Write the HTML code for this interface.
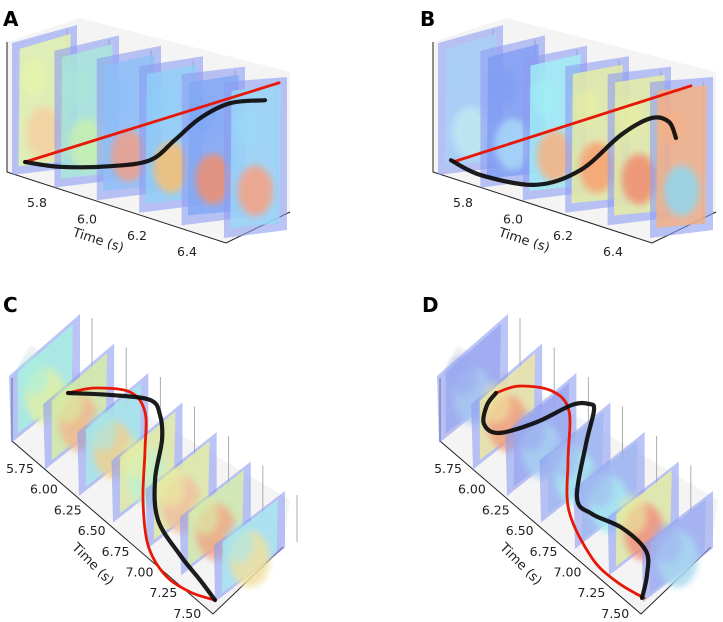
<!DOCTYPE html>
<html><head><meta charset="utf-8"><style>
body{margin:0;background:#fff}
svg{display:block}
text{font-family:"DejaVu Sans","Liberation Sans",sans-serif;fill:#222}
.pl{font-weight:bold;font-size:20px;fill:#000}
</style></head><body>
<svg id="fig" width="723" height="622" viewBox="0 0 723 622">
<defs><filter id="bl" x="-50%" y="-50%" width="200%" height="200%"><feGaussianBlur stdDeviation="3.5"/></filter></defs>
<text class="pl" x="3" y="26">A</text>
<text class="pl" x="420" y="26">B</text>
<text class="pl" x="3" y="312">C</text>
<text class="pl" x="422" y="312">D</text>
</svg>
<script>
// ---- data ----
const ticksAB = [5.8, 6.0, 6.2, 6.4];
const tickLabelsAB = ["5.8", "6.0", "6.2", "6.4"];
const ticksCD = [5.75, 6.0, 6.25, 6.5, 6.75, 7.0, 7.25, 7.5];
const tickLabelsCD = ["5.75", "6.00", "6.25", "6.50", "6.75", "7.00", "7.25", "7.50"];
const sliceColorsA = [["#e8f7a8","#f5d0a0"],["#a8e8d8","#c8f0b0"],["#8cc0f8","#f0a088"],["#90d0f8","#f8c070"],["#7fa8f5","#f09070"],["#9ad8f8","#f8a080"]];
const sliceColorsB = [["#a8d0f8","#c0e8f0"],["#7f9cf2","#a8d8f8"],["#a0f0f5","#f8b080"],["#e8f0a0","#f8a070"],["#e8f0a0","#f08c70"],["#f8b080","#90d8f0"]];
const sliceColorsC = [["#a8f0e0","#e0f0a8"],["#d8f0a0","#f0b890"],["#a8e8e8","#f0d090"],["#e8f0a0","#c0f0d0"],["#e8f0a0","#f0c0a0"],["#d8f0a8","#f0a888"],["#a8e8f0","#f0e0a0"]];
const sliceColorsD = [["#9aa8f0","#a8c8f0"],["#f0e8a0","#f0a080"],["#9aa8f0","#a8d0f0"],["#a0b8f0","#a8e8f0"],["#a0b8f0","#a8e8f0"],["#e8f0a0","#f09080"],["#a0b0f0","#a8d8f0"]];
const blackTA = [5.75,5.859,6.016,6.141,6.219,6.297,6.391,6.5];
const blackVA = [0,-0.08,-0.07,0.03,0.37,0.73,0.98,1.03];
const redTA = [5.75,6.544];
const redVA = [0,1.32];
const blackTB = [5.75,5.844,6.016,6.156,6.281,6.375,6.431,6.453];
const blackVB = [0.03,-0.22,-0.38,-0.13,0.45,0.73,0.67,0.4];
const redTB = [5.756,6.5];
const redVB = [0,1.27];
const blackTC = [5.8,5.816,5.857,5.98,6.186,6.514,6.843,7.13,7.335,7.5];
const blackVC = [0,0.84,1.64,1.84,1.88,1.74,1.8,2.24,2.64,2.94];
const redTC = [5.8,5.759,5.792,5.956,6.268,6.679,7.048,7.294,7.434,7.5];
const redVC = [0,0.54,1.24,1.54,1.54,1.5,1.6,1.94,2.44,2.94];
const blackTD = [5.8,5.899,6.055,6.128,6.038,5.898,5.89,5.94,6.219,6.662,6.793,6.908,7.097,7.294,7.483];
const blackVD = [0,-0.18,-0.24,0.06,0.82,1.52,1.86,1.96,1.8,1.62,1.92,2.52,3.0,3.02,2.92];
const redTD = [5.8,5.743,5.784,5.948,6.358,6.769,7.155,7.352,7.483];
const redVD = [0,0.46,1.12,1.46,1.44,1.46,1.92,2.42,2.96];

const svg = document.getElementById('fig');
const NS = 'http://www.w3.org/2000/svg';
function mk(tag, attrs, parent){const e=document.createElementNS(NS,tag);for(const k in attrs)e.setAttribute(k,attrs[k]);(parent||svg).appendChild(e);return e;}
function lerp(a,b,f){return a+(b-a)*f;}
function lp(p,q,f){return [lerp(p[0],q[0],f),lerp(p[1],q[1],f)];}

const geomAB = {first:[[12,43],[77,25],[77,167],[12,175]], last:[[224,82],[287,77],[287,230],[224,238]],
  box:[[7,42],[80,18],[290,72],[290,212],[226,243],[7,172]], axis:[[7,42],[7,172],[226,243],[290,212]],
  tick0:5.8, tickPos:[37,207], tickStep:[50/0.2,16.4/0.2], title:[97,244], rot:18, gl:-10,
  cOrig:[25,162], cT:[320,0], cV:[0,-60], ct0:5.75};
const geomCD = {first:[[9,376],[80,314],[80,388],[11,443]], last:[[214,545],[285,491],[285,548],[215,602]],
  box:[[12,378],[30,345],[290,500],[283,547],[213,614],[12,441]], axis:[[12,378],[12,441],[213,614],[283,547]],
  tick0:5.75, tickPos:[20,473], tickStep:[23.9/0.25,20.7/0.25], title:[90,567], rot:45, gl:12,
  cOrig:[68,393], cT:[0,121.8], cV:[50,0], ct0:5.8};

function panel(name, g, dx, colors, bT, bV, rT, rV, ticks, labels){
  const G = mk('g',{transform:`translate(${dx},0)`});
  
  
  const box = mk('polygon',{points:g.box.map(p=>p.join(',')).join(' '),fill:'#f4f4f4',stroke:'none'},G);
  
  
  const ax = mk('polyline',{points:g.axis.map(p=>p.join(',')).join(' '),fill:'none',stroke:'#222','stroke-width':1},G);
  
  
  const n = colors.length;
  for(let i=0;i<n;i++){
    const f = i/(n-1);
    const P = [0,1,2,3].map(k=>lp(g.first[k],g.last[k],f));
    const sg = mk('g',{},G);
    
    
    const gl = mk('line',{x1:P[1][0]+g.gl,y1:P[1][1]+4,x2:P[1][0]+g.gl,y2:P[2][1]-6,stroke:'#999','stroke-width':0.8},sg);
    
    
    mk('polygon',{points:P.map(p=>p.join(',')).join(' '),fill:'#8e9cf2','fill-opacity':0.6},sg);
    const bil=(u,v)=>{const a=lp(P[0],P[1],u),b=lp(P[3],P[2],u);return lp(a,b,v);};
    const inner=[bil(0.12,0.06),bil(0.9,0.05),bil(0.88,0.95),bil(0.1,0.94)];
    mk('polygon',{points:inner.map(p=>p.join(',')).join(' '),fill:colors[i][0],'fill-opacity':0.8},sg);
    const c1=bil(0.5,0.72), c2=bil(0.35,0.3);
    const w=Math.abs(P[1][0]-P[0][0]);
    mk('ellipse',{cx:c1[0],cy:c1[1],rx:w*0.28,ry:w*0.4,fill:colors[i][1],opacity:0.85,filter:'url(#bl)'},sg);
    mk('ellipse',{cx:c2[0],cy:c2[1],rx:w*0.2,ry:w*0.28,fill:colors[i][0],opacity:0.6,filter:'url(#bl)'},sg);
  }
  ticks.forEach((t,i)=>{
    const x=g.tickPos[0]+(t-g.tick0)*g.tickStep[0], y=g.tickPos[1]+(t-g.tick0)*g.tickStep[1];
    const tx = mk('text',{x:x,y:y,'font-size':12.5,'text-anchor':'middle'},G);
    tx.textContent = labels[i];
    
    
  });
  const tt = mk('text',{x:g.title[0],y:g.title[1],'font-size':13,'text-anchor':'middle',transform:`rotate(${g.rot} ${g.title[0]} ${g.title[1]})`},G);
  tt.textContent='Time (s)';
  
  
  const pt=(t,v)=>[g.cOrig[0]+(t-g.ct0)*g.cT[0]+v*g.cV[0], g.cOrig[1]+(t-g.ct0)*g.cT[1]+v*g.cV[1]];
  function curve(T,V,color,w,nm,op){
    let d='';
    const pts=T.map((t,i)=>pt(t,V[i]));
    if(pts.length<3){d='M'+pts[0].join(',')+' L'+pts[1].join(',');}
    else{
      d='M'+pts[0].join(',');
      for(let i=0;i<pts.length-1;i++){
        const p0=pts[Math.max(0,i-1)],p1=pts[i],p2=pts[i+1],p3=pts[Math.min(pts.length-1,i+2)];
        const c1=[p1[0]+(p2[0]-p0[0])/6,p1[1]+(p2[1]-p0[1])/6], c2=[p2[0]-(p3[0]-p1[0])/6,p2[1]-(p3[1]-p1[1])/6];
        d+=` C${c1.join(',')} ${c2.join(',')} ${p2.join(',')}`;
      }
    }
    const p=mk('path',{d:d,fill:'none',stroke:color,'stroke-width':w,'stroke-linecap':'round','stroke-opacity':op},G);
    
    
  }
  curve(rT,rV,'#e81808',2.8,'red-trajectory',1);
  curve(bT,bV,'#0a0a0a',4.2,'black-trajectory',0.92);
}
panel('panel-a', geomAB, 0, sliceColorsA, blackTA, blackVA, redTA, redVA, ticksAB, tickLabelsAB);
panel('panel-b', geomAB, 426, sliceColorsB, blackTB, blackVB, redTB, redVB, ticksAB, tickLabelsAB);
panel('panel-c', geomCD, 0, sliceColorsC, blackTC, blackVC, redTC, redVC, ticksCD, tickLabelsCD);
panel('panel-d', geomCD, 428, sliceColorsD, blackTD, blackVD, redTD, redVD, ticksCD, tickLabelsCD);
</script>
</body></html>
